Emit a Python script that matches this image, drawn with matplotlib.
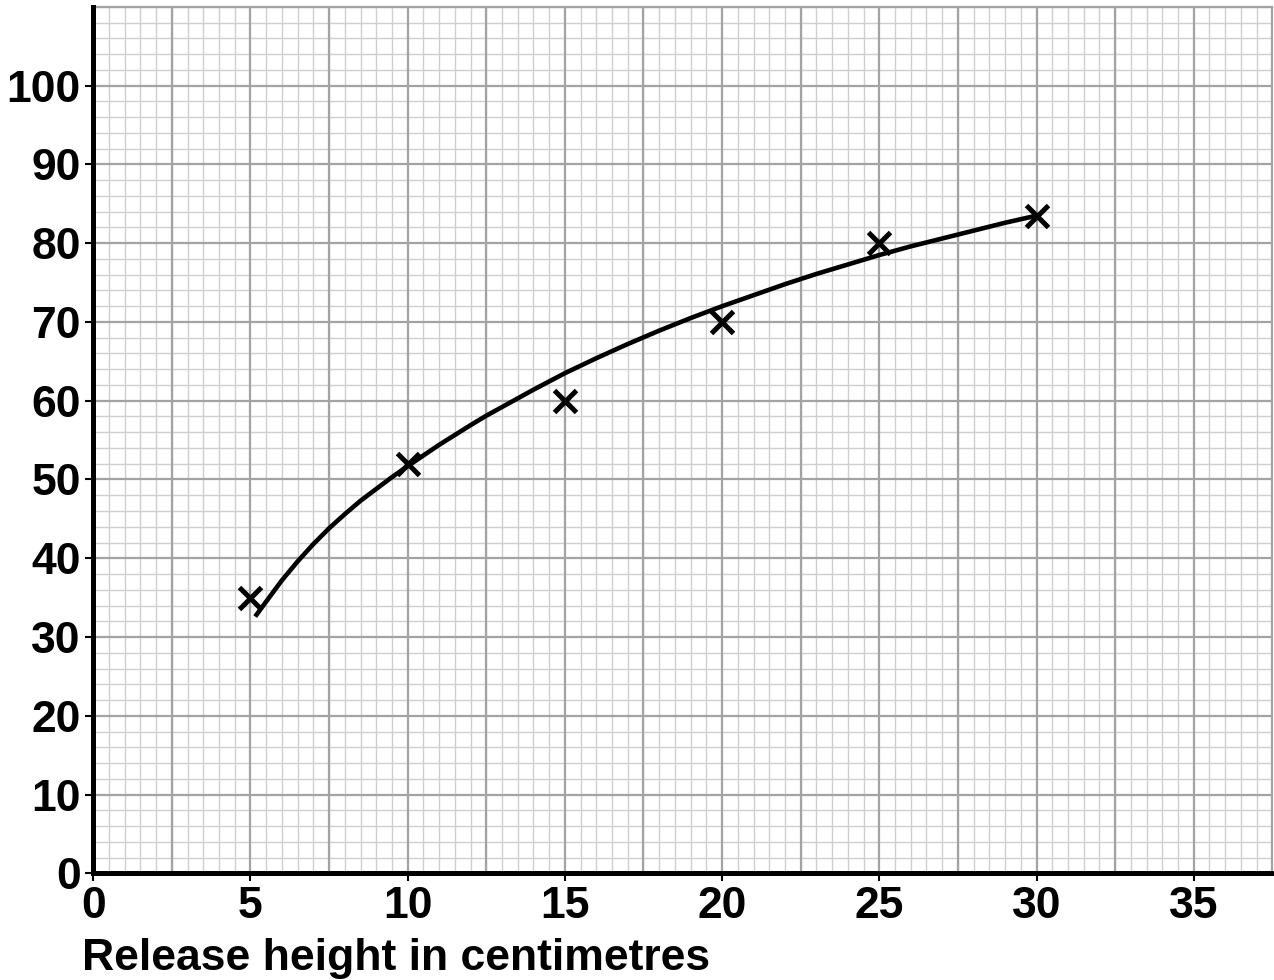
import matplotlib
matplotlib.use("Agg")
import matplotlib.pyplot as plt
from matplotlib.ticker import MultipleLocator

# measured points (crosses)
heights = [5, 10, 15, 20, 25, 30]
bounce = [35, 52, 60, 70, 80, 83.5]

# line of best fit
curve_x = [5.15, 5.5, 6, 6.5, 7, 7.5, 8, 8.5, 9, 9.5, 10, 11, 12, 12.5, 13, 14, 15, 16, 17, 18,
           19, 20, 21, 22, 23, 24, 25, 26, 27, 28, 29, 30]
curve_y = [32.6, 34.5, 37.2, 39.6, 41.8, 43.8, 45.6, 47.3, 48.8, 50.3, 51.7, 54.4, 56.9, 58.1, 59.2,
           61.4, 63.5, 65.4, 67.2, 68.9, 70.5, 72.0, 73.4, 74.8, 76.1, 77.3, 78.5, 79.6, 80.6,
           81.6, 82.6, 83.5]

x_ticks = [0, 5, 10, 15, 20, 25, 30, 35]
y_ticks = [0, 10, 20, 30, 40, 50, 60, 70, 80, 90, 100]

plt.rcParams["font.family"] = ["Liberation Sans", "DejaVu Sans"]

fig = plt.figure(figsize=(12.74, 9.8), dpi=100)
ax = fig.add_axes([0.0732, 0.1089, 0.9255, 0.884])

ax.set_xlim(0, 37.5)
ax.set_ylim(0, 110)

# graph paper
ax.xaxis.set_minor_locator(MultipleLocator(0.5))
ax.yaxis.set_minor_locator(MultipleLocator(2))
ax.grid(which="minor", color="#cfcfcf", linewidth=1.0)
for gx in [2.5 * i for i in range(1, 15)]:
    ax.axvline(gx, color="#a3a3a3", linewidth=1.6, zorder=0.8)
for gy in range(10, 110, 10):
    ax.axhline(gy, color="#a3a3a3", linewidth=1.6, zorder=0.8)
ax.set_axisbelow(True)

ax.plot(curve_x, curve_y, color="black", linewidth=3.3, zorder=3,
        solid_joinstyle="round", solid_capstyle="butt")
ax.plot(heights, bounce, linestyle="none", marker="x", markersize=16,
        markeredgewidth=3.6, color="black", zorder=4)

ax.set_xticks(x_ticks)
ax.set_yticks(y_ticks)
ax.set_xticklabels([str(v) for v in x_ticks], fontsize=32, fontweight="bold")
ax.set_yticklabels([str(v) for v in y_ticks], fontsize=32, fontweight="bold")
ax.tick_params(which="major", length=6, width=1.5, color="black", pad=3)
ax.tick_params(which="minor", length=0)

for side in ["left", "bottom"]:
    ax.spines[side].set_linewidth(3.6)
    ax.spines[side].set_color("black")
    ax.spines[side].set_zorder(5)
for side in ["top", "right"]:
    ax.spines[side].set_linewidth(1.6)
    ax.spines[side].set_color("#a3a3a3")

fig.text(0.064, 0.010, "Release height in centimetres", fontsize=32,
         fontweight="bold", ha="left", va="baseline")

fig.savefig("out.png", dpi=100)
plt.close(fig)
